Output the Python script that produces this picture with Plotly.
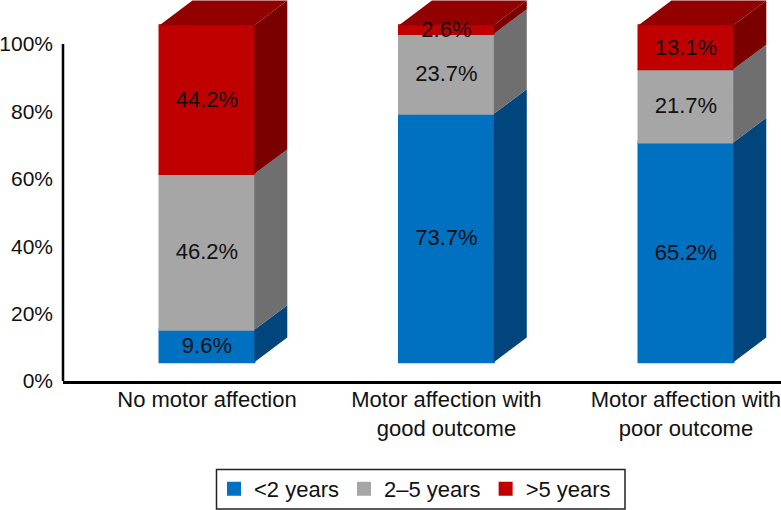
import plotly.graph_objects as go

categories = ["No motor affection", "Motor affection with<br>good outcome", "Motor affection with<br>poor outcome"]
series_names = ["<2 years", "2–5 years", ">5 years"]
under_2 = [9.6, 73.7, 65.2]
from_2_to_5 = [46.2, 23.7, 21.7]
over_5 = [44.2, 2.6, 13.1]
tick_values = [0, 20, 40, 60, 80, 100]

FONT = "Liberation Sans, Arial, sans-serif"
FRONT = ["#0070C0", "#A6A6A6", "#C00000"]
SIDE = ["#00457C", "#6F6F6F", "#7A0000"]
TOP_COLOR = "#920000"
FLOOR = 5.6      # front of the bars sits above the axis (pseudo-3D)
DX = 0.1375      # depth, x units
DY = 7.3         # depth, y units
W = 0.396
LABEL_NUDGE = 0.6

xs = list(range(len(categories)))
series = [under_2, from_2_to_5, over_5]
fig = go.Figure()

bases = [FLOOR] * len(xs)
side_traces = []
top_x, top_y = [], []
lab_x, lab_y, lab_t = [], [], []
for name, vals, fc, sc in zip(series_names, series, FRONT, SIDE):
    fig.add_trace(go.Bar(
        x=xs, y=vals, base=list(bases), width=W, name=name,
        marker=dict(color=fc, line=dict(color=fc, width=2)),
        cliponaxis=False, hoverinfo="skip",
    ))
    px, py = [], []
    for x, b, v in zip(xs, bases, vals):
        r = x + W / 2
        px += [r, r + DX, r + DX, r, r, None]
        py += [b, b + DY, b + v + DY, b + v, b, None]
        lab_x.append(x)
        lab_y.append(b + v / 2 - LABEL_NUDGE)
        lab_t.append(f"{v:.1f}%")
    side_traces.append(go.Scatter(
        x=px, y=py, mode="lines", fill="toself", fillcolor=sc,
        line=dict(width=0, color=sc), showlegend=False, hoverinfo="skip",
    ))
    bases = [b + v for b, v in zip(bases, vals)]

for x, t in zip(xs, bases):
    l, r = x - W / 2, x + W / 2
    top_x += [l, l + DX, r + DX, r, l, None]
    top_y += [t, t + DY, t + DY, t, t, None]

for t in side_traces:
    fig.add_trace(t)
fig.add_trace(go.Scatter(
    x=top_x, y=top_y, mode="lines", fill="toself", fillcolor=TOP_COLOR,
    line=dict(width=0, color=TOP_COLOR), showlegend=False, hoverinfo="skip",
))
fig.add_trace(go.Scatter(
    x=lab_x, y=lab_y, text=lab_t, mode="text", textposition="middle center",
    textfont=dict(color="#111111", size=22, family=FONT),
    showlegend=False, hoverinfo="skip",
))

fig.update_layout(
    width=781, height=510,
    margin=dict(l=63, r=0, t=0, b=129),
    plot_bgcolor="white", paper_bgcolor="white",
    barmode="overlay",
    font=dict(family=FONT, size=22, color="#111111"),
    xaxis=dict(
        range=[-0.601, 2.397], tickmode="array", tickvals=xs, ticktext=categories,
        showgrid=False, zeroline=False, showline=True, linecolor="#000000", linewidth=2.5,
        ticks="", tickfont=dict(size=22, family=FONT), ticklabeloverflow="allow",
        ticklabelstandoff=-3,
    ),
    yaxis=dict(
        range=[0, 113.06], tickmode="array", tickvals=tick_values,
        ticktext=[f"{v}%" for v in tick_values],
        showgrid=False, zeroline=False, showline=False,
        ticks="", tickfont=dict(size=21, family=FONT), ticklabelstandoff=9,
    ),
    shapes=[
        dict(type="line", xref="x domain", x0=0, x1=0, yref="y", y0=0, y1=100,
             line=dict(color="#000000", width=2.5)),
        dict(type="rect", xref="paper", yref="paper",
             x0=(216.5 - 63) / 718, x1=(625 - 63) / 718,
             y0=(381 - 509) / 381, y1=(381 - 469.5) / 381,
             line=dict(color="#222222", width=1.5), fillcolor="rgba(0,0,0,0)"),
    ],
    legend=dict(
        orientation="h", xref="container", yref="container",
        x=214 / 781, xanchor="left", y=1 - 468 / 510, yanchor="top",
        borderwidth=0, bgcolor="rgba(0,0,0,0)",
        font=dict(size=22, family=FONT), itemsizing="trace",
    ),
)

fig.write_html("out.html", post_script="document.body.style.margin='0';",
               config={"displayModeBar": False})
